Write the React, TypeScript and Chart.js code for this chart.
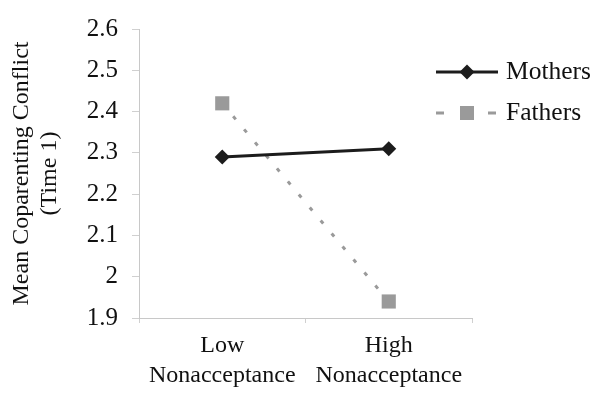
import React, { useEffect, useRef } from 'react';
import { Chart, registerables } from 'chart.js';

Chart.register(...registerables);

const categories: string[][] = [['Low', 'Nonacceptance'], ['High', 'Nonacceptance']];
const mothers: number[] = [2.29, 2.31];
const fathers: number[] = [2.42, 1.94];
const yTickLabels: string[] = ['1.9', '2', '2.1', '2.2', '2.3', '2.4', '2.5', '2.6'];
const yMin = 1.9;
const yMax = 2.6;
const seriesNames: string[] = ['Mothers', 'Fathers'];
const yTitle: string[] = ['Mean Coparenting Conflict', '(Time 1)'];

const FONT = "'Liberation Serif', 'Times New Roman', serif";
const BLACK = '#1c1c1c';
const GRAY = '#9a9a9a';

const legendPlugin = {
  id: 'customLegend',
  afterDraw(chart: any) {
    const ctx = chart.ctx;
    const x0 = chart.chartArea.right - 36;
    const rows = [72, 113];
    ctx.save();
    // Mothers
    let y = rows[0];
    ctx.strokeStyle = BLACK;
    ctx.lineWidth = 3;
    ctx.beginPath();
    ctx.moveTo(x0, y);
    ctx.lineTo(x0 + 62, y);
    ctx.stroke();
    ctx.fillStyle = BLACK;
    const cx = x0 + 31;
    const r = 7.5;
    ctx.beginPath();
    ctx.moveTo(cx, y - r);
    ctx.lineTo(cx + r, y);
    ctx.lineTo(cx, y + r);
    ctx.lineTo(cx - r, y);
    ctx.closePath();
    ctx.fill();
    // Fathers
    y = rows[1];
    ctx.strokeStyle = GRAY;
    ctx.lineWidth = 3;
    ctx.beginPath();
    ctx.moveTo(x0, y);
    ctx.lineTo(x0 + 8, y);
    ctx.moveTo(x0 + 52, y);
    ctx.lineTo(x0 + 60, y);
    ctx.stroke();
    ctx.fillStyle = GRAY;
    ctx.fillRect(cx - 7, y - 7, 14, 14);
    // text
    ctx.fillStyle = '#111';
    ctx.font = `25.5px ${FONT}`;
    ctx.textBaseline = 'middle';
    ctx.textAlign = 'left';
    ctx.fillText(seriesNames[0], x0 + 70, rows[0]);
    ctx.fillText(seriesNames[1], x0 + 70, rows[1]);
    ctx.restore();
  },
};

export default function App() {
  const ref = useRef<HTMLCanvasElement | null>(null);
  useEffect(() => {
    document.body.style.margin = '0';
    const chart = new Chart(ref.current as HTMLCanvasElement, {
      type: 'line',
      data: {
        labels: categories as any,
        datasets: [
          {
            label: seriesNames[0],
            data: mothers,
            borderColor: BLACK,
            backgroundColor: BLACK,
            borderWidth: 3,
            pointStyle: 'rectRot',
            pointRadius: 7.5,
            pointBorderWidth: 0,
            pointBackgroundColor: BLACK,
          },
          {
            label: seriesNames[1],
            data: fathers,
            borderColor: GRAY,
            backgroundColor: GRAY,
            borderWidth: 3,
            borderDash: [4, 13],
            pointStyle: 'rect',
            pointRadius: 10,
            pointBorderWidth: 0,
            pointBackgroundColor: GRAY,
          },
        ],
      },
      options: {
        responsive: false,
        animation: false,
        layout: { padding: { top: 19, right: 130, left: 0, bottom: 0 } },
        plugins: { legend: { display: false }, tooltip: { enabled: false } },
        scales: {
          x: {
            offset: true,
            grid: { offset: true, drawOnChartArea: false, drawTicks: true, tickLength: 5, color: '#d0d0d0' },
            border: { color: '#c8c8c8' },
            ticks: { color: '#111', font: { family: FONT, size: 24, lineHeight: 1.25 }, padding: 8, maxRotation: 0 },
            afterFit: (s: any) => { s.height = 83; },
          },
          y: {
            min: yMin,
            max: yMax,
            grid: { drawOnChartArea: false, drawTicks: true, tickLength: 7, color: '#d0d0d0' },
            border: { color: '#c8c8c8' },
            ticks: {
              stepSize: 0.1,
              color: '#111',
              font: { family: FONT, size: 25 },
              padding: 14,
              callback: (_v: any, i: number) => yTickLabels[i],
            },
            title: {
              display: true,
              text: yTitle,
              color: '#111',
              font: { family: FONT, size: 24, lineHeight: 1.17 },
              padding: { top: 8, bottom: 0 },
            },
            afterFit: (s: any) => { s.width = 139; },
          },
        },
      },
      plugins: [legendPlugin],
    });
    return () => chart.destroy();
  }, []);
  return (
    <div style={{ position: 'absolute', left: 0, top: 0, width: 602, height: 401, background: '#fff' }}>
      <canvas ref={ref} width={602} height={401} />
    </div>
  );
}
